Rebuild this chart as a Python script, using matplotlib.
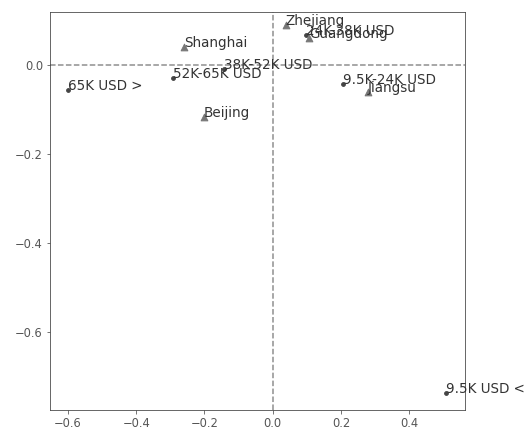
import matplotlib.pyplot as plt

# row coordinates (income groups)
incomes = ['65K USD >', '52K-65K USD', '38K-52K USD', '24K-38K USD',
           '9.5K-24K USD', '9.5K USD <']
income_x = [-0.600, -0.293, -0.144, 0.097, 0.205, 0.507]
income_y = [-0.056, -0.029, -0.009, 0.067, -0.043, -0.737]

# column coordinates (regions)
regions = ['Zhejiang', 'Guangdong', 'Jiangsu', 'Shanghai', 'Beijing']
region_x = [0.038, 0.106, 0.279, -0.261, -0.202]
region_y = [0.090, 0.061, -0.060, 0.040, -0.117]

fig = plt.figure(figsize=(525 / 72, 433 / 72), dpi=72)
ax = fig.add_axes([0.095, 0.053, 0.791, 0.919])

ax.axhline(0, color='gray', linestyle='--', linewidth=1.5, alpha=0.9, zorder=1)
ax.axvline(0, color='gray', linestyle='--', linewidth=1.5, alpha=0.9, zorder=1)

ax.scatter(income_x, income_y, marker='o', s=14, color='#444444', zorder=2)
ax.scatter(region_x, region_y, marker='^', s=45, color='#777777', zorder=2)

for name, x, y in zip(incomes, income_x, income_y):
    ax.text(x, y, name, fontsize=13.5, color='#333333')
for name, x, y in zip(regions, region_x, region_y):
    ax.text(x, y, name, fontsize=13.5, color='#333333')

ax.set_xlim(-0.653, 0.564)
ax.set_ylim(-0.775, 0.119)
ax.set_xticks([-0.6, -0.4, -0.2, 0.0, 0.2, 0.4])
ax.set_yticks([-0.6, -0.4, -0.2, 0.0])
ax.tick_params(labelsize=11.5, colors='#555555')
for s in ax.spines.values():
    s.set_color('#444444')

fig.savefig('out.png', dpi=72)
